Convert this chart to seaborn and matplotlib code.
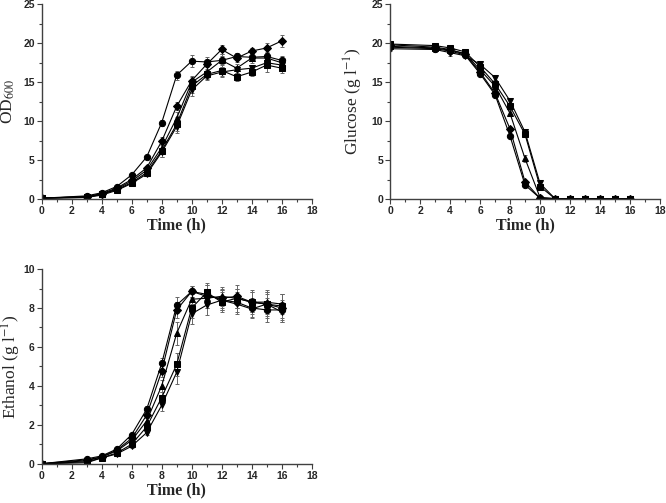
import numpy as np
import pandas as pd
import matplotlib
matplotlib.use("Agg")
import matplotlib.pyplot as plt
from matplotlib.ticker import AutoMinorLocator
import seaborn as sns

times = [0, 3, 4, 5, 6, 7, 8, 9, 10, 11, 12, 13, 14, 15, 16]
series = ["S1", "S2", "S3", "S4", "S5"]
markers = ["o", "D", "^", "s", "v"]

od = [
    [0.1, 0.4, 0.8, 1.6, 3.1, 5.4, 9.8, 15.9, 17.7, 17.6, 17.8, 18.3, 18.2, 18.3, 17.8],
    [0.1, 0.3, 0.7, 1.4, 2.5, 4.0, 7.4, 11.9, 15.2, 17.3, 19.2, 18.1, 19.0, 19.4, 20.3],
    [0.1, 0.3, 0.6, 1.3, 2.3, 3.7, 6.6, 10.4, 15.0, 16.3, 17.8, 16.8, 18.1, 18.1, 17.5],
    [0.1, 0.2, 0.6, 1.2, 2.1, 3.4, 6.2, 9.6, 14.5, 16.0, 16.5, 15.7, 16.3, 17.2, 16.8],
    [0.1, 0.2, 0.5, 1.1, 2.0, 3.2, 6.0, 9.3, 14.0, 15.8, 16.3, 16.6, 16.8, 17.5, 17.2],
]
od_err = [
    [0.05, 0.1, 0.1, 0.2, 0.2, 0.3, 0.4, 0.6, 0.8, 0.6, 0.5, 0.5, 0.5, 0.6, 0.5],
    [0.05, 0.1, 0.1, 0.2, 0.2, 0.3, 0.5, 0.5, 0.6, 0.6, 0.6, 0.5, 0.4, 0.6, 0.8],
    [0.05, 0.1, 0.1, 0.2, 0.2, 0.3, 0.6, 0.8, 0.7, 0.8, 0.8, 0.6, 0.6, 0.7, 0.6],
    [0.05, 0.1, 0.1, 0.2, 0.2, 0.4, 0.8, 0.9, 0.9, 0.6, 0.7, 0.5, 0.5, 0.9, 0.6],
    [0.05, 0.1, 0.1, 0.2, 0.2, 0.3, 0.6, 0.8, 0.8, 0.5, 0.6, 0.5, 0.4, 0.7, 0.5],
]

glucose = [
    [19.5, 19.3, 19.0, 18.5, 16.1, 13.4, 8.1, 1.8, 0.1, 0.05, 0.05, 0.05, 0.05, 0.05, 0.05],
    [19.8, 19.5, 19.2, 18.6, 16.3, 13.6, 9.0, 2.2, 0.1, 0.05, 0.05, 0.05, 0.05, 0.05, 0.05],
    [19.6, 19.4, 19.1, 18.7, 16.6, 14.5, 11.0, 5.2, 0.2, 0.05, 0.05, 0.05, 0.05, 0.05, 0.05],
    [19.9, 19.7, 19.4, 18.9, 17.0, 14.8, 11.9, 8.3, 1.6, 0.05, 0.05, 0.05, 0.05, 0.05, 0.05],
    [19.3, 19.2, 18.8, 18.4, 17.3, 15.6, 12.6, 8.6, 2.0, 0.05, 0.05, 0.05, 0.05, 0.05, 0.05],
]
glucose_err = [
    [0.3, 0.3, 0.4, 0.3, 0.3, 0.3, 0.3, 0.3, 0.1, 0.0, 0.0, 0.0, 0.0, 0.0, 0.0],
    [0.3, 0.3, 0.4, 0.3, 0.3, 0.3, 0.3, 0.3, 0.1, 0.0, 0.0, 0.0, 0.0, 0.0, 0.0],
    [0.3, 0.3, 0.4, 0.3, 0.3, 0.3, 0.4, 0.4, 0.1, 0.0, 0.0, 0.0, 0.0, 0.0, 0.0],
    [0.3, 0.3, 0.4, 0.3, 0.3, 0.3, 0.3, 0.4, 0.3, 0.0, 0.0, 0.0, 0.0, 0.0, 0.0],
    [0.3, 0.3, 0.4, 0.3, 0.3, 0.3, 0.3, 0.3, 0.3, 0.0, 0.0, 0.0, 0.0, 0.0, 0.0],
]

ethanol = [
    [0.0, 0.25, 0.4, 0.75, 1.5, 2.8, 5.15, 8.15, 8.85, 8.7, 8.4, 8.3, 8.0, 7.9, 7.9],
    [0.0, 0.2, 0.35, 0.7, 1.3, 2.5, 4.75, 7.9, 8.85, 8.6, 8.5, 8.6, 8.3, 8.2, 8.0],
    [0.0, 0.15, 0.35, 0.65, 1.2, 2.2, 4.0, 6.7, 8.45, 8.5, 8.6, 8.5, 8.3, 8.3, 8.2],
    [0.0, 0.1, 0.3, 0.55, 1.0, 1.9, 3.4, 5.1, 8.0, 8.8, 8.3, 8.5, 8.3, 8.2, 8.1],
    [0.0, 0.05, 0.3, 0.5, 0.9, 1.6, 3.0, 4.7, 7.7, 8.15, 8.4, 8.2, 7.95, 8.2, 7.8],
]
ethanol_err = [
    [0.02, 0.05, 0.05, 0.1, 0.1, 0.15, 0.3, 0.4, 0.3, 0.5, 0.5, 0.5, 0.5, 0.6, 0.5],
    [0.02, 0.05, 0.05, 0.1, 0.1, 0.15, 0.3, 0.4, 0.3, 0.6, 0.5, 0.6, 0.6, 0.7, 0.7],
    [0.02, 0.05, 0.05, 0.1, 0.1, 0.15, 0.3, 0.6, 0.4, 0.5, 0.5, 0.5, 0.5, 0.5, 0.5],
    [0.02, 0.05, 0.05, 0.1, 0.1, 0.15, 0.3, 0.6, 0.5, 0.5, 0.5, 0.5, 0.5, 0.6, 0.6],
    [0.02, 0.05, 0.05, 0.1, 0.1, 0.15, 0.3, 0.6, 0.5, 0.5, 0.5, 0.5, 0.4, 0.5, 0.5],
]

sns.set_style("ticks")
plt.rcParams["font.family"] = ["Liberation Sans", "DejaVu Sans"]
plt.rcParams["mathtext.fontset"] = "stix"
plt.rcParams["axes.linewidth"] = 1.0
plt.rcParams["axes.edgecolor"] = "0.25"
plt.rcParams["xtick.major.size"] = 3.5
plt.rcParams["ytick.major.size"] = 3.5
plt.rcParams["xtick.minor.size"] = 2
plt.rcParams["ytick.minor.size"] = 2

label_font = {"family": "Liberation Serif", "size": 12.5}


def long_frame(values, errs):
    rows = []
    for name, vals, es in zip(series, values, errs):
        for t, v, e in zip(times, vals, es):
            rows.append({"time": t, "value": v, "err": e, "series": name})
    return pd.DataFrame(rows)


def draw(ax, values, errs, ymax, ystep, ylabel, ylab_x):
    df = long_frame(values, errs)
    for name in series:
        sub = df[df["series"] == name]
        ax.errorbar(sub["time"], sub["value"], yerr=sub["err"], fmt="none",
                    ecolor="0.4", elinewidth=0.7, capsize=1.5, capthick=0.7)
    sns.lineplot(data=df, x="time", y="value", style="series", markers=markers,
                 dashes=False, color="black", linewidth=0.8, markersize=4.5,
                 markeredgecolor="black", errorbar=None, legend=False, ax=ax)
    ax.set_xlim(0, 18)
    ax.set_ylim(0, ymax)
    ax.set_xticks(np.arange(0, 19, 2))
    ax.set_yticks(np.arange(0, ymax + 0.01, ystep))
    ax.xaxis.set_minor_locator(AutoMinorLocator(2))
    ax.yaxis.set_minor_locator(AutoMinorLocator(2))
    ax.tick_params(labelsize=7.5, width=0.8, pad=1.5, color="0.25")
    ax.tick_params(which="minor", width=0.8, color="0.25")
    for lab in ax.get_xticklabels() + ax.get_yticklabels():
        lab.set_fontweight("bold")
    ax.set_xlabel("Time (h)", fontdict=dict(label_font, weight="bold", size=11.5))
    ax.set_ylabel(ylabel, fontdict=label_font)
    ax.xaxis.set_label_coords(0.5, -0.095)
    ax.yaxis.set_label_coords(ylab_x, 0.5)
    sns.despine(ax=ax)


fig = plt.figure(figsize=(6.66, 5.03), dpi=100)
ax1 = fig.add_axes([0.0626, 0.6044, 0.4054, 0.387])
ax2 = fig.add_axes([0.5856, 0.6044, 0.4054, 0.387])
ax3 = fig.add_axes([0.0626, 0.0781, 0.4054, 0.387])

draw(ax1, od, od_err, 25, 5, r"OD$_{600}$", -0.09)
draw(ax2, glucose, glucose_err, 25, 5, r"Glucose (g l$^{-1}$)", -0.093)
draw(ax3, ethanol, ethanol_err, 10, 2, r"Ethanol (g l$^{-1}$)", -0.068)

fig.savefig("out.png", dpi=100)
